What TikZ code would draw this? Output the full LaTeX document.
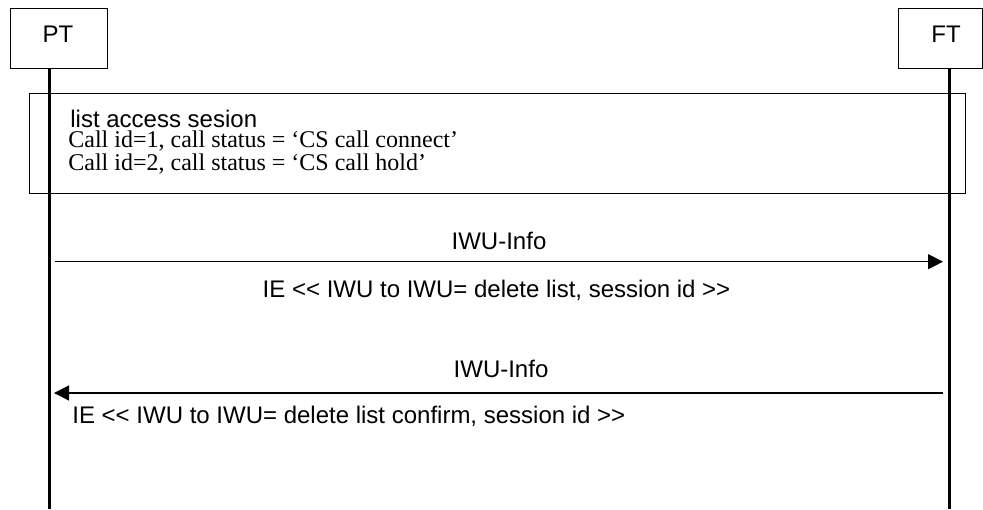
\documentclass[tikz,border=0pt]{standalone}
\usepackage{fontspec}
\setmainfont{Liberation Sans}[Ligatures=TeXOff]
\newfontfamily\serifface{Liberation Serif}[Ligatures=TeXOff]
\usetikzlibrary{arrows.meta}
\begin{document}
\begin{tikzpicture}[x=0.5pt,y=-0.5pt,
  font=\fontsize{12pt}{14pt}\selectfont,
  entity/.style={draw,line width=0.7pt,inner sep=0pt,minimum height=30pt,anchor=north west},
  lifeline/.style={line width=1.5pt},
  msg/.style={line width=0.6pt,-{Triangle[length=7.5pt,width=7.5pt]}},
  lbl/.style={inner sep=0pt,anchor=base}]
\useasboundingbox (0,0) rectangle (983,509);
% session box
\node[draw,line width=0.7pt,minimum width=468pt,minimum height=50pt,anchor=north west,inner sep=0pt] (sess) at (29,93) {};
% entities
\node[entity,minimum width=48.5pt] (PT) at (10,8) {};
\node[lbl] (PTt) at (58,42) {PT};
\node[entity,minimum width=42pt] (FT) at (898,8) {};
\node[lbl] (FTt) at (946,42) {FT};
% lifelines
\coordinate (PTtop) at (49,68);
\coordinate (PTbot) at (49,509);
\coordinate (FTtop) at (949.5,68);
\coordinate (FTbot) at (949.5,509);
\draw[lifeline] (PTtop) -- (PTbot);
\draw[lifeline] (FTtop) -- (FTbot);
% session texts
\node[lbl,anchor=base west] (s1) at (70,127) {list access sesion};
\node[lbl,anchor=base west] (s2) at (68,147) {\serifface Call id=1, call status = ‘CS call connect’};
\node[lbl,anchor=base west] (s3) at (68,170) {\serifface Call id=2, call status = ‘CS call hold’};
% message 1
\coordinate (m1a) at (55,261.7);
\coordinate (m1b) at (943,261.7);
\draw[msg] (m1a) -- (m1b);
\node[lbl] (m1l) at (499,249) {IWU-Info};
\node[lbl] (m1i) at (496.5,297) {IE <{}< IWU to IWU= delete list, session id >{}>};
% message 2
\coordinate (m2a) at (943,393);
\coordinate (m2b) at (54,393);
\draw[msg] (m2a) -- (m2b);
\node[lbl] (m2l) at (501,377) {IWU-Info};
\node[lbl,anchor=base west] (m2i) at (72,423) {IE <{}< IWU to IWU= delete list confirm, session id >{}>};
\end{tikzpicture}
\end{document}
